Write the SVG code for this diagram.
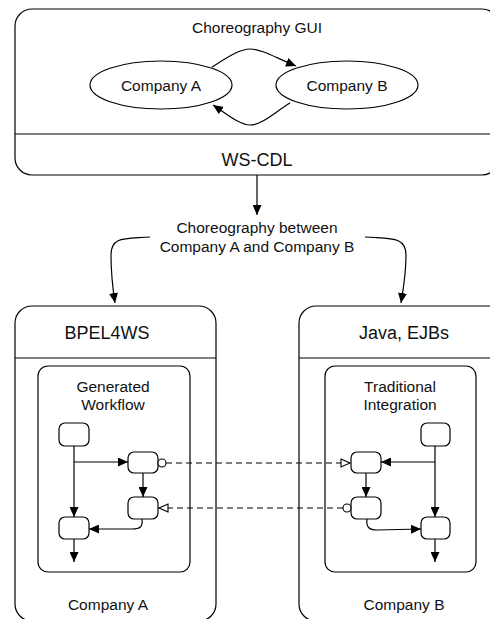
<svg xmlns="http://www.w3.org/2000/svg" width="490" height="619" viewBox="0 0 490 619">
<style>
  .box { fill: #fff; stroke: #000; stroke-width: 1.2; }
  .ln { fill: none; stroke: #000; stroke-width: 1.2; }
  .dash { fill: none; stroke: #000; stroke-width: 1.2; stroke-dasharray: 6 4; }
  .t { font-family: "Liberation Sans", Arial, sans-serif; font-size: 15.5px; fill: #111; text-anchor: middle; }
  .h { font-family: "Liberation Sans", Arial, sans-serif; font-size: 18px; fill: #111; text-anchor: middle; }
</style>
<defs>
  <marker id="arr" markerUnits="userSpaceOnUse" markerWidth="11" markerHeight="9" refX="10" refY="4.5" orient="auto">
    <path d="M0,0 L10,4.5 L0,9 z" fill="#000"/>
  </marker>
  <marker id="open" markerUnits="userSpaceOnUse" markerWidth="12" markerHeight="10" refX="10" refY="5" orient="auto">
    <path d="M1,1 L10,5 L1,9 z" fill="#fff" stroke="#000" stroke-width="1.1"/>
  </marker>
</defs>
<rect width="490" height="619" fill="#fff"/>

<g id="choreography-gui">
  <rect class="box" x="15" y="9" width="484" height="166" rx="17"/>
  <line class="ln" x1="15" y1="134" x2="499" y2="134"/>
  <text class="t" x="257" y="33">Choreography GUI</text>
  <text class="h" x="257" y="166">WS-CDL</text>
</g>
<g id="company-a-ellipse">
  <ellipse class="box" cx="161" cy="85" rx="71" ry="24"/>
  <text class="t" x="161" y="91">Company A</text>
</g>
<g id="company-b-ellipse">
  <ellipse class="box" cx="347" cy="85" rx="71" ry="24"/>
  <text class="t" x="347" y="91">Company B</text>
</g>

<g id="choreography-label">
  <text class="t" x="257" y="233">Choreography between</text>
  <text class="t" x="257" y="252">Company A and Company B</text>
</g>

<g id="bpel-box">
  <rect class="box" x="15" y="306" width="201" height="315" rx="17"/>
  <line class="ln" x1="15" y1="358" x2="216" y2="358"/>
  <text class="h" x="107" y="339">BPEL4WS</text>
  <text class="t" x="108" y="610">Company A</text>
</g>
<g id="generated-workflow">
  <rect class="box" x="38" y="366" width="152" height="206" rx="10"/>
  <text class="t" x="113" y="392">Generated</text>
  <text class="t" x="113" y="410">Workflow</text>
</g>
<g id="l1"><rect class="box" x="59" y="423" width="30" height="23" rx="6"/></g>
<g id="l2"><rect class="box" x="128" y="452" width="30" height="21" rx="6"/></g>
<g id="l3"><rect class="box" x="128" y="497" width="30" height="22" rx="6"/></g>
<g id="l4"><rect class="box" x="59" y="517" width="30" height="22" rx="6"/></g>

<g id="java-box">
  <rect class="box" x="299" y="306" width="210" height="315" rx="17"/>
  <line class="ln" x1="299" y1="358" x2="509" y2="358"/>
  <text class="h" x="404" y="339">Java, EJBs</text>
  <text class="t" x="404" y="610">Company B</text>
</g>
<g id="traditional-integration">
  <rect class="box" x="325" y="366" width="151" height="206" rx="10"/>
  <text class="t" x="400" y="392">Traditional</text>
  <text class="t" x="400" y="410">Integration</text>
</g>
<g id="r1"><rect class="box" x="421" y="423" width="29" height="23" rx="6"/></g>
<g id="r2"><rect class="box" x="351" y="452" width="30" height="21" rx="6"/></g>
<g id="r3"><rect class="box" x="351" y="497" width="30" height="22" rx="6"/></g>
<g id="r4"><rect class="box" x="421" y="517" width="29" height="22" rx="6"/></g>

<g id="connectors">
  <path class="ln" d="M212,67 C228,57 240,49 250,49 C262,49 276,58 296,66" marker-end="url(#arr)"/>
  <path class="ln" d="M290,103 C275,112 262,125 250,125 C240,125 228,115 213,105" marker-end="url(#arr)"/>
  <path class="ln" d="M257,175 L257,215" marker-end="url(#arr)"/>
  <path class="ln" d="M150,237 C125,239 111,236 111,255 C111,275 113,290 115,303" marker-end="url(#arr)"/>
  <path class="ln" d="M365,237 C390,239 406,236 406,255 C406,275 403,290 401,303" marker-end="url(#arr)"/>

  <path class="ln" d="M74,446 L74,517" marker-end="url(#arr)"/>
  <path class="ln" d="M74,462 L128,462" marker-end="url(#arr)"/>
  <path class="ln" d="M143,473 L143,497" marker-end="url(#arr)"/>
  <path class="ln" d="M142,519 C143,527 140,529 132,529 L89,529" marker-end="url(#arr)"/>
  <path class="ln" d="M74,539 L74,562" marker-end="url(#arr)"/>

  <path class="ln" d="M435,446 L435,517" marker-end="url(#arr)"/>
  <path class="ln" d="M435,462 L381,462" marker-end="url(#arr)"/>
  <path class="ln" d="M366,473 L366,497" marker-end="url(#arr)"/>
  <path class="ln" d="M367,519 C366,527 369,530 377,530 L421,529" marker-end="url(#arr)"/>
  <path class="ln" d="M435,539 L435,562" marker-end="url(#arr)"/>

  <circle cx="162" cy="463" r="4" fill="#fff" stroke="#000" stroke-width="1.1"/>
  <path class="dash" d="M166,463 L350,463" marker-end="url(#open)"/>
  <circle cx="347" cy="508" r="4" fill="#fff" stroke="#000" stroke-width="1.1"/>
  <path class="dash" d="M343,508 L159,508" marker-end="url(#open)"/>
</g>
</svg>
